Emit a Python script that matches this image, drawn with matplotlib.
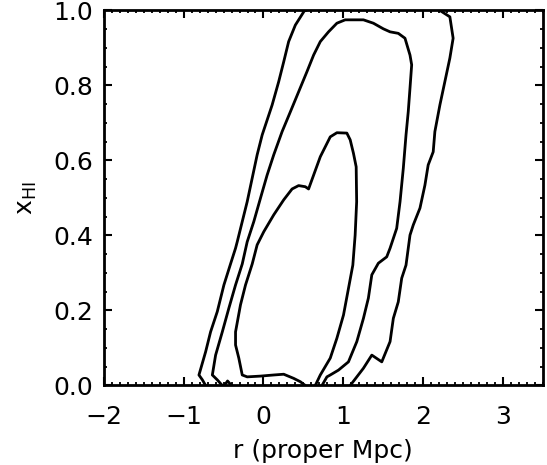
import matplotlib
matplotlib.use("Agg")
import matplotlib.pyplot as plt
from matplotlib.ticker import MultipleLocator

# Outer (widest) contour: left branch (bottom -> top) and right branch (top -> bottom)
outer_left_x = [-0.725, -0.766, -0.809, -0.725, -0.663, -0.579, -0.496, -0.413, -0.350, -0.329,
                -0.266, -0.204, -0.141, -0.079, -0.016, 0.109, 0.191, 0.254, 0.316, 0.400, 0.513, 0.538]
outer_left_y = [0.000, 0.015, 0.028, 0.090, 0.143, 0.197, 0.268, 0.324, 0.366, 0.383,
                0.437, 0.490, 0.553, 0.615, 0.668, 0.748, 0.810, 0.863, 0.917, 0.961, 0.999, 1.000]

outer_right_x = [2.213, 2.338, 2.379, 2.338, 2.275, 2.213, 2.150, 2.129, 2.066, 2.025, 1.963,
                 1.879, 1.838, 1.788, 1.734, 1.691, 1.629, 1.588, 1.484, 1.359, 1.254, 1.088]
outer_right_y = [1.000, 0.983, 0.926, 0.873, 0.810, 0.748, 0.677, 0.623, 0.588, 0.534, 0.473,
                 0.428, 0.401, 0.321, 0.286, 0.223, 0.179, 0.117, 0.063, 0.081, 0.046, 0.000]

# Middle contour
mid_x = [-0.516, -0.579, -0.641, -0.600, -0.516, -0.434, -0.350, -0.266, -0.204, -0.121,
         -0.038, 0.046, 0.129, 0.234, 0.338, 0.441, 0.546, 0.629, 0.713, 0.816, 0.921,
         1.025, 1.254, 1.379, 1.504, 1.588, 1.691, 1.775, 1.838, 1.859, 1.838, 1.816,
         1.788, 1.754, 1.713, 1.671, 1.588, 1.546, 1.441, 1.359, 1.316, 1.254, 1.171,
         1.066, 0.941, 0.838, 0.796, 0.734]
mid_y = [0.000, 0.015, 0.028, 0.081, 0.143, 0.206, 0.268, 0.324, 0.383, 0.437,
         0.499, 0.561, 0.615, 0.677, 0.730, 0.783, 0.837, 0.881, 0.917, 0.943, 0.966,
         0.975, 0.975, 0.966, 0.951, 0.943, 0.939, 0.926, 0.881, 0.855, 0.793, 0.730,
         0.668, 0.579, 0.490, 0.419, 0.366, 0.343, 0.326, 0.295, 0.233, 0.179, 0.117,
         0.063, 0.041, 0.028, 0.023, 0.000]

# small fragment of the middle contour at the bottom edge
bump_x = [-0.49, -0.45, -0.40]
bump_y = [0.000, 0.012, 0.000]

# Inner contour
inner_x = [0.525, 0.463, 0.379, 0.254, 0.129, -0.038, -0.204, -0.266, -0.309, -0.350,
           -0.350, -0.288, -0.225, -0.141, -0.079, 0.004, 0.129, 0.254, 0.359, 0.441,
           0.525, 0.566, 0.713, 0.838, 0.921, 1.046, 1.088, 1.129, 1.163, 1.169, 1.150,
           1.121, 1.004, 0.921, 0.838, 0.713, 0.650]
inner_y = [0.000, 0.010, 0.019, 0.030, 0.028, 0.025, 0.023, 0.028, 0.073, 0.108,
           0.143, 0.215, 0.268, 0.324, 0.375, 0.410, 0.455, 0.495, 0.524, 0.533,
           0.530, 0.524, 0.610, 0.663, 0.674, 0.673, 0.655, 0.619, 0.583, 0.490, 0.401,
           0.321, 0.188, 0.126, 0.073, 0.028, 0.000]

xlim = (-2, 3.5)
ylim = (0.0, 1.0)
xticks = [-2, -1, 0, 1, 2, 3]
yticks = [0.0, 0.2, 0.4, 0.6, 0.8, 1.0]
ytick_labels = ["0.0", "0.2", "0.4", "0.6", "0.8", "1.0"]

plt.rcParams['font.family'] = ['DejaVu Sans']

fig = plt.figure(figsize=(5.47, 4.65), dpi=100)
ax = fig.add_axes([0.1901, 0.1710, 0.8017, 0.8065])

lw = 2.0
for xs, ys in [(outer_left_x, outer_left_y), (outer_right_x, outer_right_y),
               (mid_x, mid_y), (bump_x, bump_y), (inner_x, inner_y)]:
    ax.plot(xs, ys, color='black', lw=lw, solid_joinstyle='round', solid_capstyle='round')

ax.set_xlim(*xlim)
ax.set_ylim(*ylim)
ax.set_xticks(xticks)
ax.set_yticks(yticks)
ax.set_yticklabels(ytick_labels)
ax.xaxis.set_minor_locator(MultipleLocator(0.1))
ax.yaxis.set_minor_locator(MultipleLocator(0.05))

for s in ax.spines.values():
    s.set_linewidth(2.0)

ax.tick_params(which='both', direction='in', top=True, right=True, color='black')
ax.tick_params(which='major', length=5.5, width=1.5, labelsize=18)
ax.tick_params(which='minor', length=2.5, width=1.3)
ax.tick_params(axis='x', which='major', pad=14)
ax.tick_params(axis='y', which='major', pad=8)

ax.set_xlabel('r (proper Mpc)', fontsize=18, labelpad=7)
ax.set_ylabel(r'$\mathregular{x_{HI}}$', fontsize=18, labelpad=10)

fig.savefig('out.png', dpi=100)
